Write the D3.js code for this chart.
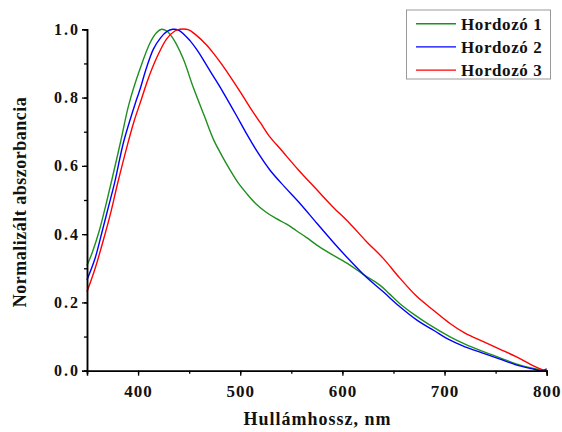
<!DOCTYPE html>
<html>
<head>
<meta charset="utf-8">
<script src="https://cdn.jsdelivr.net/npm/d3@7"></script>
<style>
    body { margin: 0; background: #fff; }
    svg text { font-family: "Liberation Serif", "Times New Roman", serif; font-weight: bold; }
</style>
</head>
<body>
<div id="chart"></div>
<script>
// wavelengths (nm) and normalized absorbance
const wl1 = [350, 355, 362, 368, 374, 383, 391, 402, 412, 418, 423, 428, 434, 444, 454, 465, 474, 482, 490, 498, 506, 515, 525, 535, 545, 555, 565, 575, 590, 607, 620, 637, 646, 656, 670, 685, 705, 720, 738, 755, 770, 785, 797, 800];
const abs1 = [0.308, 0.345, 0.41, 0.48, 0.555, 0.672, 0.78, 0.885, 0.962, 0.99, 1.0, 0.995, 0.974, 0.915, 0.83, 0.745, 0.676, 0.63, 0.588, 0.55, 0.52, 0.49, 0.465, 0.446, 0.43, 0.41, 0.39, 0.368, 0.34, 0.31, 0.283, 0.25, 0.225, 0.197, 0.165, 0.135, 0.10, 0.078, 0.056, 0.037, 0.02, 0.008, 0.0, 0.0];

const wl2 = [350, 358, 365, 371, 377, 386, 398, 402, 408, 415, 422, 428, 434, 440, 451, 458, 467, 475, 483, 496, 506, 517, 529, 543, 557, 575, 590, 607, 623, 640, 656, 673, 690, 705, 720, 738, 755, 770, 785, 795, 800];
const abs2 = [0.266, 0.33, 0.41, 0.48, 0.55, 0.672, 0.79, 0.825, 0.885, 0.942, 0.975, 0.993, 1.0, 0.997, 0.966, 0.938, 0.895, 0.856, 0.817, 0.749, 0.695, 0.64, 0.588, 0.54, 0.495, 0.432, 0.38, 0.324, 0.275, 0.231, 0.188, 0.148, 0.117, 0.09, 0.07, 0.051, 0.033, 0.017, 0.006, 0.0, 0.005];

const wl3 = [350, 358, 367, 373, 380, 390, 396, 403, 410, 418, 428, 436, 441, 449, 456, 467, 475, 483, 491, 500, 510, 520, 529, 540, 557, 575, 590, 607, 623, 640, 656, 673, 690, 705, 720, 738, 755, 770, 787, 795, 800];
const abs3 = [0.231, 0.30, 0.393, 0.46, 0.549, 0.666, 0.73, 0.793, 0.856, 0.915, 0.972, 0.995, 1.0, 0.999, 0.985, 0.954, 0.925, 0.893, 0.858, 0.817, 0.769, 0.725, 0.685, 0.647, 0.588, 0.53, 0.482, 0.432, 0.38, 0.329, 0.272, 0.217, 0.175, 0.139, 0.11, 0.085, 0.062, 0.041, 0.014, 0.004, 0.0];

const seriesNames = ["Hordozó 1", "Hordozó 2", "Hordozó 3"];
const seriesColors = ["#1f8f1f", "#0000ff", "#ff0000"];
const xTicks = [400, 500, 600, 700, 800];
const yTicks = [0.0, 0.2, 0.4, 0.6, 0.8, 1.0];

const W = 562, H = 432;
const margin = { top: 29.3, right: 15.3, bottom: 61.3, left: 87 };

const series = [
    wl1.map((w, i) => [w, abs1[i]]),
    wl2.map((w, i) => [w, abs2[i]]),
    wl3.map((w, i) => [w, abs3[i]])
];

const svg = d3.select("#chart").append("svg")
    .attr("width", W)
    .attr("height", H);

const x = d3.scaleLinear().domain([350, 800]).range([margin.left, W - margin.right]);
const y = d3.scaleLinear().domain([0, 1]).range([H - margin.bottom, margin.top]);

const line = d3.line()
    .x(d => x(d[0]))
    .y(d => y(d[1]))
    .curve(d3.curveCatmullRom.alpha(0.5));

svg.append("g")
    .selectAll("path")
    .data(series)
    .join("path")
    .attr("fill", "none")
    .attr("stroke", (d, i) => seriesColors[i])
    .attr("stroke-width", 1.4)
    .attr("d", line);

// x axis: minor ticks then major ticks with labels
const xAxis = svg.append("g").attr("transform", `translate(0,${y(0)})`);
xAxis.call(d3.axisBottom(x).tickValues(d3.range(350, 801, 50)).tickSize(3).tickFormat(""));
xAxis.append("g").call(d3.axisBottom(x).tickValues(xTicks).tickSize(5).tickPadding(9).tickFormat(d3.format("d")));
xAxis.selectAll("path.domain").attr("stroke-width", 1.5);
xAxis.selectAll("line").attr("stroke-width", 1.3);
xAxis.selectAll("text").attr("font-size", 17).attr("letter-spacing", 1).attr("fill", "#111");
xAxis.select("g").select("path.domain").remove();

const yAxis = svg.append("g").attr("transform", `translate(${x(350)},0)`);
yAxis.call(d3.axisLeft(y).tickValues(d3.range(0, 1.01, 0.1)).tickSize(3).tickFormat(""));
yAxis.append("g").call(d3.axisLeft(y).tickValues(yTicks).tickSize(5).tickPadding(2).tickFormat(d3.format(".1f")));
yAxis.selectAll("path.domain").attr("stroke-width", 1.5);
yAxis.selectAll("line").attr("stroke-width", 1.3);
yAxis.selectAll("text").attr("font-size", 16).attr("letter-spacing", 2).attr("fill", "#111");
yAxis.select("g").select("path.domain").remove();

svg.append("text")
    .attr("x", 317.5)
    .attr("y", 425)
    .attr("text-anchor", "middle")
    .attr("font-size", 18)
    .attr("letter-spacing", 1)
    .attr("fill", "#111")
    .text("Hullámhossz, nm");

svg.append("text")
    .attr("transform", "translate(26,202) rotate(-90)")
    .attr("text-anchor", "middle")
    .attr("font-size", 18)
    .attr("letter-spacing", 0.5)
    .attr("fill", "#111")
    .text("Normalizált abszorbancia");

// legend
const legend = svg.append("g");
legend.append("rect")
    .attr("x", 406.5)
    .attr("y", 10)
    .attr("width", 144)
    .attr("height", 69)
    .attr("fill", "#fff")
    .attr("stroke", "#999")
    .attr("stroke-width", 1);

const rows = legend.selectAll("g.row")
    .data(seriesNames)
    .join("g")
    .attr("class", "row")
    .attr("transform", (d, i) => `translate(0,${23.7 + i * 23.2})`);

rows.append("line")
    .attr("x1", 416)
    .attr("x2", 456)
    .attr("stroke", (d, i) => seriesColors[i])
    .attr("stroke-width", 1.4);

rows.append("text")
    .attr("x", 461)
    .attr("dy", "0.35em")
    .attr("font-size", 17)
    .attr("letter-spacing", 0.6)
    .attr("fill", "#111")
    .text(d => d);
</script>
</body>
</html>
